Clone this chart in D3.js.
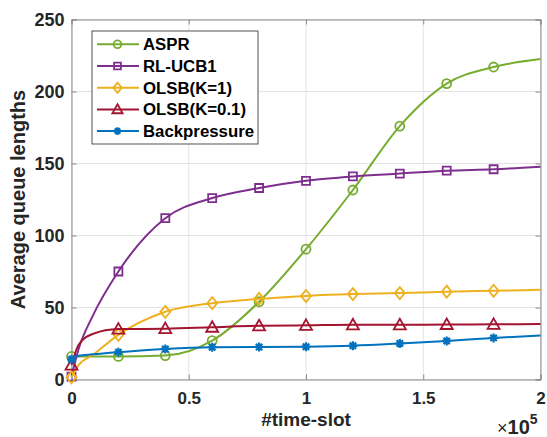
<!DOCTYPE html>
<html>
<head>
<meta charset="utf-8">
<script src="https://cdn.jsdelivr.net/npm/d3@7"></script>
<style>
  html, body { margin: 0; padding: 0; background: #fff; }
  svg { display: block; font-family: "Liberation Sans", Arial, Helvetica, sans-serif; }
</style>
</head>
<body>
<svg id="chart" width="547" height="437"></svg>
<script>
// time-slot positions (in units of 1e5)
const timeX = [0, 0.03, 0.09, 0.2, 0.4, 0.6, 0.8, 1.0, 1.2, 1.4, 1.6, 1.8, 2.0];
// positions that carry a marker
const markerX = [0, 0.2, 0.4, 0.6, 0.8, 1.0, 1.2, 1.4, 1.6, 1.8];

const asprVals   = [16, 16, 16, 16, 16.6, 27, 54, 90.5, 131.6, 176, 205.5, 217, 222.5];
const rlucbVals  = [2, 21, 44, 75, 112, 126, 133, 138, 141, 143, 145, 146, 147.7];
const olsb1Vals  = [1.5, 10, 17, 31, 47, 53, 56, 58, 59.3, 60, 61, 61.6, 62.3];
const olsb01Vals = [10, 24, 31.6, 35, 35.3, 36.3, 37.3, 37.6, 38, 38, 38.2, 38.3, 38.5];
const backpVals  = [14, 16.5, 17.5, 19, 21.2, 22.4, 22.6, 22.8, 23.5, 25, 26.8, 28.9, 30.5];

const seriesNames = ["ASPR", "RL-UCB1", "OLSB(K=1)", "OLSB(K=0.1)", "Backpressure"];
const seriesColors = ["#77AC30", "#7E2F8E", "#EDB120", "#A2142F", "#0072BD"];
const seriesMarkers = ["circle", "square", "diamond", "triangle", "asterisk"];
const seriesVals = [asprVals, rlucbVals, olsb1Vals, olsb01Vals, backpVals];

const xTicks = [0, 0.5, 1, 1.5, 2];
const yTicks = [0, 50, 100, 150, 200, 250];

const svg = d3.select("#chart");
const m = { left: 71.5, right: 540.5, top: 19.5, bottom: 379.5 };
const x = d3.scaleLinear().domain([0, 2]).range([m.left, m.right]);
const y = d3.scaleLinear().domain([0, 250]).range([m.bottom, m.top]);

// grid
const grid = svg.append("g");
grid.selectAll(".gx").data(xTicks).join("line")
  .attr("x1", d => x(d)).attr("x2", d => x(d))
  .attr("y1", m.top).attr("y2", m.bottom)
  .attr("stroke", "#e3e3e3").attr("stroke-width", 1);
grid.selectAll(".gy").data(yTicks).join("line")
  .attr("x1", m.left).attr("x2", m.right)
  .attr("y1", d => y(d)).attr("y2", d => y(d))
  .attr("stroke", "#e3e3e3").attr("stroke-width", 1);

// axes (inward ticks on all four sides)
const tickLen = 5;
const axisColor = "#8a8a8a";
const bottomAxis = d3.axisBottom(x).tickValues(xTicks).tickSize(-tickLen).tickPadding(12)
  .tickFormat(d => d3.format("~g")(d));
const topAxis = d3.axisTop(x).tickValues(xTicks).tickSize(-tickLen).tickFormat("");
const leftAxis = d3.axisLeft(y).tickValues(yTicks).tickSize(-tickLen).tickPadding(7);
const rightAxis = d3.axisRight(y).tickValues(yTicks).tickSize(-tickLen).tickFormat("");

function styleAxis(g, size) {
  g.select(".domain").attr("stroke", axisColor).attr("stroke-width", 1);
  g.selectAll(".tick line").attr("stroke", axisColor);
  g.selectAll(".tick text").attr("fill", "#262626")
    .style("font-size", size + "px").style("font-weight", "bold")
    .style("font-family", "'Liberation Sans', Arial, sans-serif");
}
svg.append("g").attr("transform", `translate(0,${m.bottom})`).call(bottomAxis).call(styleAxis, 17);
svg.append("g").attr("transform", `translate(0,${m.top})`).call(topAxis).call(styleAxis, 17);
svg.append("g").attr("transform", `translate(${m.left},0)`).call(leftAxis).call(styleAxis, 18);
svg.append("g").attr("transform", `translate(${m.right},0)`).call(rightAxis).call(styleAxis, 18);

// marker shapes
function markerPath(type, s) {
  switch (type) {
    case "circle": return d3.symbol(d3.symbolCircle, 64 * s * s)();
    case "square": return `M${-4*s},${-4*s}H${4*s}V${4*s}H${-4*s}Z`;
    case "diamond": return `M0,${-6*s}L${5*s},0L0,${6*s}L${-5*s},0Z`;
    case "triangle": return `M0,${-6*s}L${6*s},${4.5*s}H${-6*s}Z`;
    case "asterisk": {
      const a = 4.5 * s, b = 3.2 * s;
      return `M${-a},0H${a}M0,${-a}V${a}M${-b},${-b}L${b},${b}M${-b},${b}L${b},${-b}`;
    }
  }
}
function drawMarker(g, type, color, cx, cy, s = 1) {
  g.append("path").attr("d", markerPath(type, s))
    .attr("transform", `translate(${cx},${cy})`)
    .attr("fill", "none").attr("stroke", color)
    .attr("stroke-width", type === "asterisk" ? 2.2 : 1.8);
}

const line = d3.line().x(d => x(d[0])).y(d => y(d[1])).curve(d3.curveMonotoneX);
const plot = svg.append("g");
seriesVals.forEach((vals, i) => {
  const pts = timeX.map((t, j) => [t, vals[j]]);
  plot.append("path").datum(pts).attr("d", line)
    .attr("fill", "none").attr("stroke", seriesColors[i]).attr("stroke-width", 2);
  pts.filter(p => markerX.some(mx => Math.abs(mx - p[0]) < 1e-9)).forEach(p => {
    drawMarker(plot, seriesMarkers[i], seriesColors[i], x(p[0]), y(p[1]));
  });
});

// axis labels
svg.append("text").attr("x", (m.left + m.right) / 2).attr("y", 426)
  .attr("text-anchor", "middle").attr("fill", "#262626")
  .style("font-size", "19px").style("font-weight", "bold").text("#time-slot");
svg.append("text").attr("transform", `translate(25,${(m.top + m.bottom) / 2}) rotate(-90)`)
  .attr("text-anchor", "middle").attr("fill", "#262626")
  .style("font-size", "20px").style("font-weight", "bold").text("Average queue lengths");
const expo = svg.append("text").attr("x", 497).attr("y", 434).attr("fill", "#262626")
  .style("font-size", "20px").style("font-weight", "bold");
expo.append("tspan").style("font-weight", "normal").style("font-size", "18px").text("\u00d7");
expo.append("tspan").text("10");
expo.append("tspan").attr("dy", -10).style("font-size", "14px").text("5");

// legend
const lg = svg.append("g");
lg.append("rect").attr("x", 92).attr("y", 31).attr("width", 166).attr("height", 113)
  .attr("fill", "#fff").attr("stroke", "#262626").attr("stroke-width", 0.8);
seriesNames.forEach((name, i) => {
  const ly = 44.3 + i * 21.7;
  lg.append("line").attr("x1", 97).attr("x2", 139).attr("y1", ly).attr("y2", ly)
    .attr("stroke", seriesColors[i]).attr("stroke-width", 2);
  drawMarker(lg, seriesMarkers[i], seriesColors[i], 117.5, ly, 0.85);
  lg.append("text").attr("x", 143).attr("y", ly + 6).attr("fill", "#000")
    .style("font-size", "16.8px").style("font-weight", "bold").text(name);
});
</script>
</body>
</html>
